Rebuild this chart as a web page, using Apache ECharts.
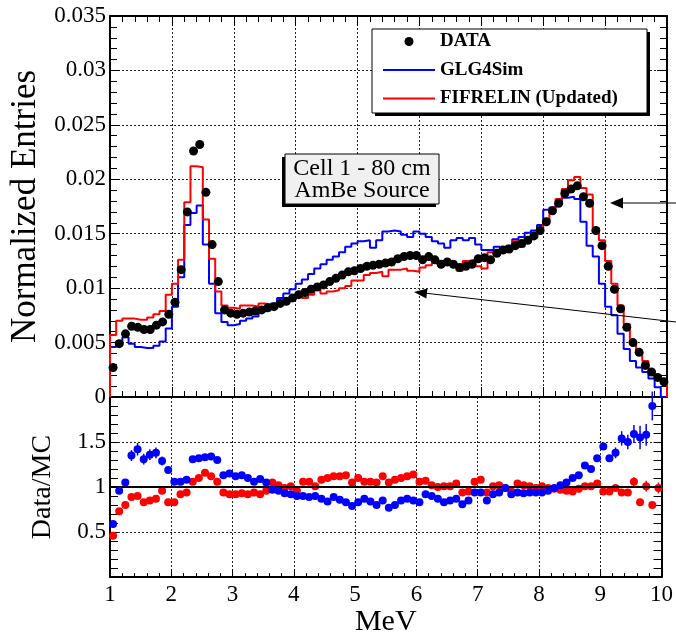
<!DOCTYPE html>
<html>
<head>
<meta charset="utf-8">
<script src="https://cdn.jsdelivr.net/npm/echarts@6/dist/echarts.min.js"></script>
<style>
  html, body { margin: 0; padding: 0; background: #fff; }
  #c { width: 676px; height: 638px; }
</style>
</head>
<body>
<div id="c"></div>
<script>
// Histogram binning (MeV)
const energyLow = 1.0;
const binWidth = 0.1;

// Measured spectrum, normalized entries per 0.1 MeV bin (1.0 - 10.0 MeV)
const dataEntries = [
  0.0027, 0.0049, 0.0058, 0.0065, 0.0064, 0.0062, 0.0062, 0.0066, 0.0069, 0.0076,
  0.0087, 0.0117, 0.0170, 0.0226, 0.0232, 0.0188, 0.0140, 0.0106, 0.0080, 0.0077,
  0.0076, 0.0077, 0.0078, 0.0079, 0.0080, 0.0082, 0.0083, 0.0086, 0.0088, 0.0091,
  0.0094, 0.0096, 0.0099, 0.0101, 0.0103, 0.0106, 0.0109, 0.0112, 0.0115, 0.0116,
  0.0118, 0.0120, 0.0121, 0.0122, 0.0123, 0.0124, 0.0127, 0.0129, 0.0130, 0.0130,
  0.0126, 0.0129, 0.0126, 0.0122, 0.0124, 0.0122, 0.0119, 0.0120, 0.0122, 0.0127,
  0.0128, 0.0126, 0.0132, 0.0135, 0.0136, 0.0139, 0.0141, 0.0144, 0.0148, 0.0153,
  0.0161, 0.0171, 0.0178, 0.0187, 0.0191, 0.0194, 0.0184, 0.0178, 0.0153, 0.0139,
  0.0120, 0.0099, 0.0081, 0.0064, 0.0050, 0.0041, 0.0029, 0.0023, 0.0018, 0.0014
];

// GLG4Sim simulation
const glg4sim = [
  0.0046, 0.0051, 0.0055, 0.0049, 0.0046, 0.0045, 0.0045, 0.0047, 0.0051, 0.0063,
  0.0083, 0.0110, 0.0158, 0.0169, 0.0176, 0.0140, 0.0104, 0.0077, 0.0069, 0.0066,
  0.0067, 0.0070, 0.0072, 0.0074, 0.0078, 0.0082, 0.0086, 0.0091, 0.0095, 0.0099,
  0.0104, 0.0108, 0.0113, 0.0118, 0.0122, 0.0126, 0.0129, 0.0133, 0.0138, 0.0141,
  0.0143, 0.0144, 0.0137, 0.0144, 0.0152, 0.0153, 0.0152, 0.0149, 0.0147, 0.0152,
  0.0150, 0.0147, 0.0143, 0.0141, 0.0137, 0.0144, 0.0146, 0.0144, 0.0146, 0.0140,
  0.0135, 0.0135, 0.0138, 0.0135, 0.0139, 0.0145, 0.0147, 0.0151, 0.0153, 0.0158,
  0.0172, 0.0174, 0.0178, 0.0183, 0.0184, 0.0182, 0.0161, 0.0139, 0.0129, 0.0104,
  0.0083, 0.0075, 0.0058, 0.0044, 0.0033, 0.0027, 0.0023, 0.0017, 0.0009, 0.0000
];

// FIFRELIN (updated) simulation
const fifrelin = [
  0.0057, 0.0070, 0.0072, 0.0072, 0.0071, 0.0071, 0.0073, 0.0076, 0.0079, 0.0094,
  0.0104, 0.0126, 0.0179, 0.0212, 0.0211, 0.0163, 0.0127, 0.0097, 0.0084, 0.0082,
  0.0081, 0.0084, 0.0084, 0.0083, 0.0086, 0.0085, 0.0082, 0.0086, 0.0089, 0.0090,
  0.0096, 0.0091, 0.0094, 0.0099, 0.0095, 0.0097, 0.0098, 0.0100, 0.0102, 0.0107,
  0.0107, 0.0112, 0.0114, 0.0115, 0.0111, 0.0117, 0.0117, 0.0118, 0.0116, 0.0115,
  0.0119, 0.0121, 0.0123, 0.0122, 0.0123, 0.0121, 0.0116, 0.0125, 0.0126, 0.0120,
  0.0118, 0.0133, 0.0130, 0.0133, 0.0137, 0.0143, 0.0138, 0.0142, 0.0147, 0.0155,
  0.0162, 0.0173, 0.0182, 0.0191, 0.0199, 0.0202, 0.0192, 0.0186, 0.0155, 0.0144,
  0.0125, 0.0104, 0.0084, 0.0067, 0.0050, 0.0041, 0.0033, 0.0024, 0.0018, 0.0015
];

// Data / MC ratios per bin
const ratioGLG4Sim = [
  0.59, 0.96, 1.05, 1.35, 1.42, 1.31, 1.36, 1.38, 1.29, 1.19,
  1.06, 1.06, 1.08, 1.31, 1.32, 1.33, 1.34, 1.30, 1.13, 1.15,
  1.12, 1.13, 1.10, 1.06, 1.09, 1.05, 0.97, 0.96, 0.93, 0.92,
  0.90, 0.90, 0.89, 0.90, 0.87, 0.84, 0.89, 0.86, 0.83, 0.79,
  0.83, 0.87, 0.84, 0.80, 0.85, 0.77, 0.80, 0.85, 0.87, 0.85,
  0.83, 0.92, 0.90, 0.87, 0.83, 0.85, 0.87, 0.81, 0.85, 0.94,
  0.94, 0.85, 0.92, 0.94, 0.99, 0.92, 0.94, 0.93, 0.94, 0.94,
  0.94, 0.96, 0.99, 1.02, 1.05, 1.10, 1.13, 1.24, 1.20, 1.32,
  1.45, 1.32, 1.38, 1.54, 1.50, 1.59, 1.55, 1.58, 1.90, null
];
const ratioFIFRELIN = [
  0.46, 0.73, 0.80, 0.89, 0.90, 0.83, 0.85, 0.87, 0.96, 0.83,
  0.83, 0.92, 0.94, 1.06, 1.10, 1.16, 1.12, 1.06, 0.94, 0.92,
  0.92, 0.93, 0.92, 0.94, 0.92, 0.96, 1.05, 1.02, 0.99, 1.01,
  0.96, 1.06, 1.06, 1.01, 1.08, 1.10, 1.12, 1.12, 1.13, 1.05,
  1.10, 1.06, 1.06, 1.05, 1.12, 1.05, 1.08, 1.10, 1.12, 1.14,
  1.06, 1.07, 1.02, 1.00, 1.01, 1.01, 1.04, 0.94, 0.95, 1.06,
  1.08, 0.94, 1.01, 1.02, 0.99, 0.95, 1.04, 1.02, 1.01, 0.99,
  1.01, 0.99, 0.98, 0.97, 0.96, 0.95, 0.98, 1.01, 1.01, 1.04,
  0.95, 0.95, 0.99, 0.94, 0.94, 1.06, 0.83, 1.01, 0.80, 0.99
];

// Visible ratio uncertainties: [bin centre (MeV), half-length]
const ratioGLG4SimErr = [
  [1.35, 0.06], [1.45, 0.07], [1.55, 0.06], [1.65, 0.06], [1.75, 0.06], [1.85, 0.05],
  [9.25, 0.06], [9.35, 0.08], [9.45, 0.08], [9.55, 0.10], [9.65, 0.13], [9.75, 0.12], [9.85, 0.16]
];
const ratioFIFRELINErr = [[9.55, 0.05], [9.75, 0.06], [9.95, 0.06]];

const FONT = "'Liberation Serif', 'DejaVu Serif', serif";
const BLUE = '#0000ff';
const RED = '#ff0000';
const LINE_ICON = 'path://M0,0H52V2H0Z';

const centers = dataEntries.map((_, i) => +(energyLow + (i + 0.5) * binWidth).toFixed(2));

// Step outline of a histogram, rising from zero at the first edge and closing at the last
function histOutline(values) {
  const pts = [[energyLow, 0]];
  values.forEach((v, i) => pts.push([+(energyLow + i * binWidth).toFixed(2), v]));
  const last = +(energyLow + values.length * binWidth).toFixed(2);
  pts.push([last, values[values.length - 1]]);
  pts.push([last, 0]);
  return pts;
}

function ratioPoints(values) {
  return centers.map((x, i) => [x, values[i]]).filter(p => p[1] !== null);
}

function errPoints(errs, values) {
  return errs.map(([x, e]) => {
    const i = Math.round((x - energyLow) / binWidth - 0.5);
    return [x, values[i], e];
  });
}

function errorBarSeries(name, errs, values, color) {
  return {
    type: 'custom', name, xAxisIndex: 2, yAxisIndex: 2, z: 3,
    data: errPoints(errs, values),
    renderItem(params, api) {
      const x = api.value(0), y = api.value(1), e = api.value(2);
      const a = api.coord([x, y - e]);
      const b = api.coord([x, y + e]);
      return { type: 'line', shape: { x1: a[0], y1: a[1], x2: b[0], y2: b[1] },
               style: { stroke: color, lineWidth: 1.5 } };
    }
  };
}

const axisLine = { show: true, onZero: false, lineStyle: { color: '#000', width: 2 } };
const gridLine = { show: true, lineStyle: { color: '#222', type: [2, 2], width: 1 } };

function xAxis(gridIndex, position, opts) {
  return Object.assign({
    type: 'value', gridIndex, position, min: 1, max: 10, interval: 1,
    axisLine,
    axisTick: { show: true, inside: true, length: 10, lineStyle: { color: '#000', width: 1 } },
    minorTick: { show: true, splitNumber: 5, length: 6, lineStyle: { color: '#000', width: 1 } },
    axisLabel: { show: false },
    splitLine: { show: false }
  }, opts);
}

function yAxis(gridIndex, position, min, max, interval, opts) {
  return Object.assign({
    type: 'value', gridIndex, position, min, max, interval,
    axisLine,
    axisTick: { show: true, inside: true, length: 10, lineStyle: { color: '#000', width: 1 } },
    minorTick: { show: true, splitNumber: 5, length: 7, lineStyle: { color: '#000', width: 1 } },
    axisLabel: { show: false },
    splitLine: { show: false }
  }, opts);
}

const tickFont = { fontFamily: FONT, fontSize: 23, color: '#000' };

const option = {
  animation: false,
  backgroundColor: '#fff',
  grid: [
    { left: 110, top: 16, width: 557, height: 381 },
    { left: 110, top: 397, width: 557, height: 187 }
  ],
  xAxis: [
    xAxis(0, 'bottom', { splitLine: gridLine }),
    xAxis(0, 'top', {}),
    xAxis(1, 'bottom', {
      splitLine: gridLine,
      axisTick: { show: true, inside: true, length: 8, lineStyle: { color: '#000', width: 1 } },
      minorTick: { show: true, splitNumber: 5, length: 4, lineStyle: { color: '#000', width: 1 } },
      axisLabel: Object.assign({ show: true, margin: 6 }, tickFont),
      name: 'MeV', nameLocation: 'middle', nameGap: 24,
      nameTextStyle: { fontFamily: FONT, fontSize: 30, color: '#000' }
    }),
    xAxis(1, 'top', { axisTick: { show: false }, minorTick: { show: false } })
  ],
  yAxis: [
    yAxis(0, 'left', 0, 0.035, 0.005, {
      splitLine: gridLine,
      axisLabel: Object.assign({
        show: true, margin: 4,
        formatter: v => (v === 0 ? '0' : String(parseFloat(v.toFixed(4))))
      }, tickFont),
      name: 'Normalized Entries', nameLocation: 'middle', nameGap: 62, nameRotate: 90,
      nameTextStyle: { fontFamily: FONT, fontSize: 35, color: '#000' }
    }),
    yAxis(0, 'right', 0, 0.035, 0.005, {}),
    yAxis(1, 'left', 0, 2, 0.5, {
      splitLine: gridLine,
      axisTick: { show: true, inside: true, length: 8, lineStyle: { color: '#000', width: 1 } },
      minorTick: { show: true, splitNumber: 5, length: 8, lineStyle: { color: '#000', width: 1 } },
      axisLabel: Object.assign({
        show: true, margin: 4,
        formatter: v => (v <= 0 || v >= 2 ? '' : String(parseFloat(v.toFixed(2))))
      }, tickFont),
      name: 'Data/MC', nameLocation: 'middle', nameGap: 53, nameRotate: 90,
      nameTextStyle: { fontFamily: FONT, fontSize: 28, color: '#000' }
    }),
    yAxis(1, 'right', 0, 2, 0.5, {
      axisTick: { show: true, inside: true, length: 8, lineStyle: { color: '#000', width: 1 } },
      minorTick: { show: true, splitNumber: 5, length: 8, lineStyle: { color: '#000', width: 1 } }
    })
  ],
  legend: {
    orient: 'vertical', left: 383, top: 32, padding: 0,
    itemWidth: 52, itemHeight: 9, itemGap: 9.5, z: 20,
    selectedMode: false, symbolKeepAspect: true,
    textStyle: { fontFamily: FONT, fontSize: 19, fontWeight: 'bold', color: '#000' },
    data: [
      { name: 'DATA', icon: 'circle' },
      { name: 'GLG4Sim', icon: LINE_ICON },
      { name: 'FIFRELIN (Updated)', icon: LINE_ICON }
    ]
  },
  series: [
    {
      type: 'line', name: 'GLG4Sim', xAxisIndex: 0, yAxisIndex: 0, step: 'end',
      symbol: 'none', showSymbol: false, z: 2,
      lineStyle: { color: BLUE, width: 2 }, itemStyle: { color: BLUE },
      data: histOutline(glg4sim)
    },
    {
      type: 'line', name: 'FIFRELIN (Updated)', xAxisIndex: 0, yAxisIndex: 0, step: 'end',
      symbol: 'none', showSymbol: false, z: 3,
      lineStyle: { color: RED, width: 2 }, itemStyle: { color: RED },
      data: histOutline(fifrelin)
    },
    {
      type: 'scatter', name: 'DATA', xAxisIndex: 0, yAxisIndex: 0, z: 5,
      symbol: 'circle', symbolSize: 9, itemStyle: { color: '#000', opacity: 1 },
      data: centers.map((x, i) => [x, dataEntries[i]])
    },
    errorBarSeries('err FIFRELIN', ratioFIFRELINErr, ratioFIFRELIN, RED),
    {
      type: 'scatter', name: 'Data/FIFRELIN', xAxisIndex: 2, yAxisIndex: 2, z: 4,
      symbol: 'circle', symbolSize: 8, itemStyle: { color: RED, opacity: 1 },
      data: ratioPoints(ratioFIFRELIN)
    },
    errorBarSeries('err GLG4Sim', ratioGLG4SimErr, ratioGLG4Sim, BLUE),
    {
      type: 'scatter', name: 'Data/GLG4Sim', xAxisIndex: 2, yAxisIndex: 2, z: 5,
      symbol: 'circle', symbolSize: 8, itemStyle: { color: BLUE, opacity: 1 },
      data: ratioPoints(ratioGLG4Sim)
    },
    {
      type: 'line', name: 'unity', xAxisIndex: 2, yAxisIndex: 2, z: 8, data: [],
      markLine: {
        silent: true, symbol: 'none', label: { show: false },
        lineStyle: { color: '#000', type: 'solid', width: 2 },
        data: [{ yAxis: 1 }]
      }
    }
  ],
  graphic: [
    // legend frame with drop shadow
    { type: 'rect', z: 10, shape: { x: 375, y: 32, width: 275, height: 84 }, style: { fill: '#000' } },
    { type: 'rect', z: 11, shape: { x: 372, y: 29, width: 275, height: 84 },
      style: { fill: '#fff', stroke: '#000', lineWidth: 1 } },
    // source label
    { type: 'rect', z: 10, shape: { x: 282, y: 157, width: 154, height: 50 }, style: { fill: '#000' } },
    { type: 'rect', z: 11, shape: { x: 285, y: 154, width: 154, height: 50 },
      style: { fill: '#f0f0f0', stroke: '#000', lineWidth: 1 } },
    { type: 'text', z: 12, style: {
        text: 'Cell 1 - 80 cm\nAmBe Source', x: 362, y: 180, align: 'center', verticalAlign: 'middle',
        fontFamily: FONT, fontSize: 24, lineHeight: 22, fill: '#000' } },
    // arrows pointing at the spectrum
    { type: 'line', z: 12, shape: { x1: 676, y1: 203, x2: 620, y2: 203 }, style: { stroke: '#000', lineWidth: 1 } },
    { type: 'polygon', z: 12, shape: { points: [[610, 203], [623, 197.5], [623, 208.5]] }, style: { fill: '#000' } },
    { type: 'line', z: 12, shape: { x1: 676, y1: 322, x2: 424, y2: 293 }, style: { stroke: '#000', lineWidth: 1 } },
    { type: 'polygon', z: 12, shape: { points: [[414, 292], [426.3, 298.5], [427.5, 288.5]] }, style: { fill: '#000' } }
  ]
};

const chart = echarts.init(document.getElementById('c'));
chart.setOption(option);
</script>
</body>
</html>
